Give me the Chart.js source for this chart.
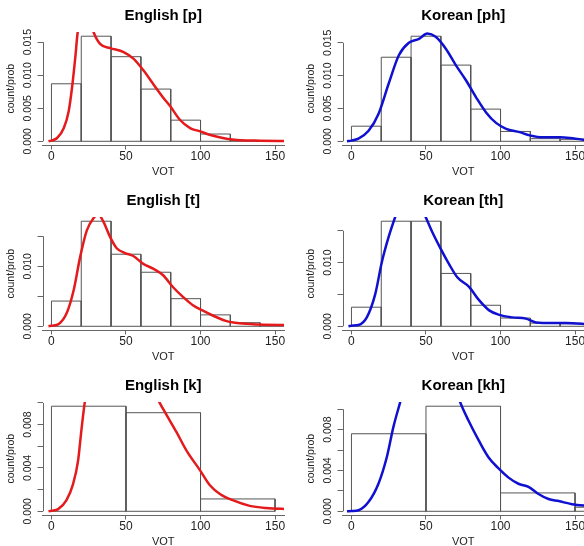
<!DOCTYPE html>
<html>
<head>
<meta charset="utf-8">
<script src="https://cdn.jsdelivr.net/npm/chart.js@4.4.0/dist/chart.umd.min.js"></script>
<style>
  html, body { margin: 0; padding: 0; background: #fff; overflow: hidden; }
  body { width: 584px; height: 546px; position: relative; }
  .panel { position: absolute; }
</style>
</head>
<body>
<div class="panel" style="left:0;top:0"><canvas id="engP" width="292" height="180"></canvas></div>
<div class="panel" style="left:300px;top:0"><canvas id="korP" width="284" height="180"></canvas></div>
<div class="panel" style="left:0;top:185px"><canvas id="engT" width="292" height="180"></canvas></div>
<div class="panel" style="left:300px;top:185px"><canvas id="korT" width="284" height="180"></canvas></div>
<div class="panel" style="left:0;top:370px"><canvas id="engK" width="292" height="180"></canvas></div>
<div class="panel" style="left:300px;top:370px"><canvas id="korK" width="284" height="180"></canvas></div>
<script>
const ENG_COLOR = '#e41a1c';
const KOR_COLOR = '#1010d0';
const AXIS_COLOR = '#666';
const BAR_COLOR = '#555';

const xTicks = [0, 50, 100, 150];
const edges20 = [0, 20, 40, 60, 80, 100, 120, 140, 160];
const edges50 = [0, 50, 100, 150, 200];

// tick values and the labels R actually printed (blank = tick only)
const yTicks15 = [0, 0.005, 0.010, 0.015];
const yLabelsAll = ['0.000', '0.005', '0.010', '0.015'];
const yLabelsSparse = ['0.000', '', '0.010', ''];
const yTicks10 = [0, 0.002, 0.004, 0.006, 0.008, 0.010];
const yLabels10 = ['0.000', '', '0.004', '', '0.008', ''];

// English [p]
const engPBars = [0.0087, 0.0159, 0.0128, 0.0079, 0.0032, 0.0011, 0.0001, 0.0001];
const engPDensX = [-2, 0, 3.8, 8.3, 11.6, 13.8, 16, 17.6, 20, 23, 26, 28.3, 32.8, 39.5, 48.4, 55, 61.8, 68.5, 75, 79.7, 86, 93, 99.8, 106, 115, 126.6, 140, 160];
const engPDensY = [0, 0.0001, 0.0005, 0.002, 0.0046, 0.0081, 0.0127, 0.0165, 0.0190, 0.0197, 0.0183, 0.0165, 0.0147, 0.0141, 0.0135, 0.0125, 0.0107, 0.0086, 0.0066, 0.0053, 0.0033, 0.0020, 0.0015, 0.0010, 0.0005, 0.00015, 0.0001, 0.00003];

// Korean [ph]
const korPBars = [0.0023, 0.0128, 0.0160, 0.0116, 0.0049, 0.0015, 0.0004, 0.0003];
const korPDensX = [-3, 0, 4.7, 11.5, 18.2, 25, 31.8, 38.5, 45.3, 50.9, 56.5, 63.3, 70, 76.8, 83.6, 90.3, 97, 103.8, 112.8, 119.6, 128.6, 139.9, 146.6, 160];
const korPDensY = [0, 0.0001, 0.0004, 0.0016, 0.0042, 0.0088, 0.0131, 0.0150, 0.0156, 0.0164, 0.0159, 0.0141, 0.0116, 0.0093, 0.0067, 0.0044, 0.0028, 0.0019, 0.0014, 0.0009, 0.0006, 0.0006, 0.0005, 0.0001];

// English [t]
const engTBars = [0.0042, 0.0175, 0.0120, 0.0090, 0.0046, 0.0019, 0.0006, 0.0003];
const engTDensX = [-2, 0, 4.9, 10.4, 14.9, 19.3, 23.8, 28.2, 31.5, 34.9, 39.3, 43.8, 49.3, 54.9, 61.6, 68.2, 74.9, 81.6, 88.2, 94.9, 101.6, 108.2, 117, 126, 139.3, 160];
const engTDensY = [0, 0.0001, 0.0004, 0.0023, 0.0060, 0.0116, 0.0160, 0.0180, 0.0186, 0.0174, 0.0149, 0.0130, 0.0122, 0.0117, 0.0104, 0.0096, 0.0085, 0.0065, 0.0049, 0.0035, 0.0026, 0.0018, 0.0009, 0.0005, 0.0003, 0.0002];

// Korean [th]
const korTBars = [0.0030, 0.0165, 0.0165, 0.0083, 0.0033, 0.0013, 0.0005, 0.0004];
const korTDensX = [-2, 0, 4.7, 10.3, 16, 20.4, 24.9, 29.4, 32, 36, 40, 44, 47, 49.7, 54.2, 59.8, 65.4, 71, 78.9, 85.6, 92.4, 99.1, 108, 117, 123.8, 135, 144, 160];
const korTDensY = [0, 0.0001, 0.0002, 0.0014, 0.0051, 0.0101, 0.0140, 0.0172, 0.0188, 0.0203, 0.0207, 0.0199, 0.0186, 0.0172, 0.0148, 0.0122, 0.0098, 0.0077, 0.0062, 0.0041, 0.0025, 0.0018, 0.0014, 0.0012, 0.0006, 0.0005, 0.0005, 0.0003];

// English [k]
const engKBars = [0.0097, 0.0091, 0.00114];
const engKDensX = [-2, 0, 4.5, 10, 14.5, 17.9, 20.1, 22.4, 25, 28, 32, 37, 42, 48, 54, 60, 66, 72.3, 77.2, 83.9, 90.6, 99.6, 106.3, 113, 122, 133, 144, 160];
const engKDensY = [0, 0.00005, 0.0002, 0.0010, 0.0025, 0.0047, 0.0075, 0.0101, 0.0120, 0.0138, 0.0155, 0.0166, 0.0170, 0.0166, 0.0155, 0.0138, 0.0120, 0.0101, 0.0089, 0.0073, 0.0056, 0.0038, 0.0024, 0.0016, 0.0010, 0.0005, 0.0003, 0.0002];

// Korean [kh]
const korKBars = [0.0076, 0.0103, 0.0018, 0.0004];
const korKDensX = [-3, 0, 4.7, 11.4, 18.1, 23.7, 28.2, 32.7, 36, 40, 45, 50, 55, 60, 65, 69, 72.9, 78.5, 85.2, 91.9, 98.7, 105.4, 112, 118.8, 125.5, 132.2, 139, 147.9, 160];
const korKDensY = [0, 0.00003, 0.0001, 0.0009, 0.0027, 0.0053, 0.0083, 0.0107, 0.0125, 0.0143, 0.0160, 0.0168, 0.0168, 0.0158, 0.0141, 0.0124, 0.0107, 0.0089, 0.0070, 0.0053, 0.0042, 0.0033, 0.0027, 0.0024, 0.0017, 0.0012, 0.0010, 0.0007, 0.0005];

Chart.defaults.font.family = '"Liberation Sans", Arial, Helvetica, sans-serif';
Chart.defaults.color = '#222';

// R draws the y axis line only between first and last tick, labels turned 90 degrees
const rYAxis = {
    id: 'rYAxis',
    afterDraw(chart, args, opts) {
        const { ctx, chartArea, scales } = chart;
        const y = scales.y;
        const x = Math.round(chartArea.left) + 0.5;
        ctx.save();
        ctx.strokeStyle = AXIS_COLOR;
        ctx.lineWidth = 1;
        ctx.beginPath();
        ctx.moveTo(x, y.getPixelForValue(opts.ticks[0]));
        ctx.lineTo(x, y.getPixelForValue(opts.ticks[opts.ticks.length - 1]));
        ctx.stroke();
        ctx.font = '10.5px "Liberation Sans", Arial, sans-serif';
        ctx.fillStyle = '#222';
        ctx.textAlign = 'center';
        ctx.textBaseline = 'middle';
        opts.ticks.forEach((v, i) => {
            if (!opts.labels[i]) return;
            ctx.save();
            ctx.translate(28, y.getPixelForValue(v));
            ctx.rotate(-Math.PI / 2);
            ctx.fillText(opts.labels[i], 0, 0);
            ctx.restore();
        });
        ctx.restore();
    }
};

function histOutline(edges, bars) {
    const pts = [];
    bars.forEach((h, i) => {
        const a = edges[i], b = edges[i + 1];
        pts.push({ x: a, y: 0 }, { x: a, y: h }, { x: b, y: h }, { x: b, y: 0 }, { x: a, y: 0 }, { x: b, y: null });
    });
    return pts;
}

function renderPanel(id, title, edges, bars, densX, densY, color, yTicks, yLabels, rightPad) {
    const top = Math.max(...bars);
    const ctx = document.getElementById(id).getContext('2d');
    return new Chart(ctx, {
        type: 'line',
        data: {
            datasets: [
                {
                    data: densX.map((x, i) => ({ x, y: densY[i] })),
                    borderColor: color,
                    borderWidth: 2.5,
                    pointRadius: 0,
                    cubicInterpolationMode: 'monotone',
                    clip: 0
                },
                {
                    data: histOutline(edges, bars),
                    borderColor: BAR_COLOR,
                    borderWidth: 1,
                    pointRadius: 0,
                    tension: 0,
                    spanGaps: false,
                    clip: 0
                }
            ]
        },
        options: {
            responsive: false,
            animation: false,
            events: [],
            layout: { padding: { left: 0, right: rightPad, top: 0, bottom: 0 } },
            plugins: {
                legend: { display: false },
                tooltip: { enabled: false },
                title: {
                    display: true,
                    text: title,
                    fullSize: false,
                    color: '#000',
                    font: { size: 15, weight: 'bold' },
                    padding: { top: 7, bottom: 7 }
                },
                rYAxis: { ticks: yTicks, labels: yLabels }
            },
            scales: {
                x: {
                    type: 'linear',
                    min: -6,
                    max: 156,
                    afterBuildTicks: s => { s.ticks = xTicks.map(v => ({ value: v })); },
                    afterFit: s => { s.height = 34.5; s.paddingLeft = 0; s.paddingRight = 0; },
                    grid: { drawOnChartArea: false, drawTicks: true, tickLength: 4, color: AXIS_COLOR },
                    border: { display: true, color: AXIS_COLOR, width: 1 },
                    ticks: { font: { size: 12 }, color: '#222', padding: 0, maxRotation: 0, autoSkip: false },
                    title: { display: true, text: 'VOT', font: { size: 11 }, color: '#222', padding: { top: 0, bottom: 1.7 } }
                },
                y: {
                    type: 'linear',
                    min: -0.04 * top,
                    max: 1.04 * top,
                    afterBuildTicks: s => { s.ticks = yTicks.map(v => ({ value: v })); },
                    afterFit: s => { s.width = 42.5; s.paddingTop = 0; s.paddingBottom = 0; },
                    grid: { drawOnChartArea: false, drawTicks: true, tickLength: 5, color: AXIS_COLOR },
                    border: { display: false },
                    ticks: { display: false },
                    title: { display: true, text: 'count/prob', font: { size: 10.5 }, color: '#222', padding: { top: 4.7, bottom: 0 } }
                }
            }
        },
        plugins: [rYAxis]
    });
}

renderPanel('engP', 'English [p]', edges20, engPBars, engPDensX, engPDensY, ENG_COLOR, yTicks15, yLabelsAll, 8);
renderPanel('korP', 'Korean [ph]', edges20, korPBars, korPDensX, korPDensY, KOR_COLOR, yTicks15, yLabelsAll, 0);
renderPanel('engT', 'English [t]', edges20, engTBars, engTDensX, engTDensY, ENG_COLOR, yTicks15, yLabelsSparse, 8);
renderPanel('korT', 'Korean [th]', edges20, korTBars, korTDensX, korTDensY, KOR_COLOR, yTicks15, yLabelsSparse, 0);
renderPanel('engK', 'English [k]', edges50, engKBars, engKDensX, engKDensY, ENG_COLOR, yTicks10, yLabels10, 8);
renderPanel('korK', 'Korean [kh]', edges50, korKBars, korKDensX, korKDensY, KOR_COLOR, yTicks10, yLabels10, 0);
</script>
</body>
</html>
